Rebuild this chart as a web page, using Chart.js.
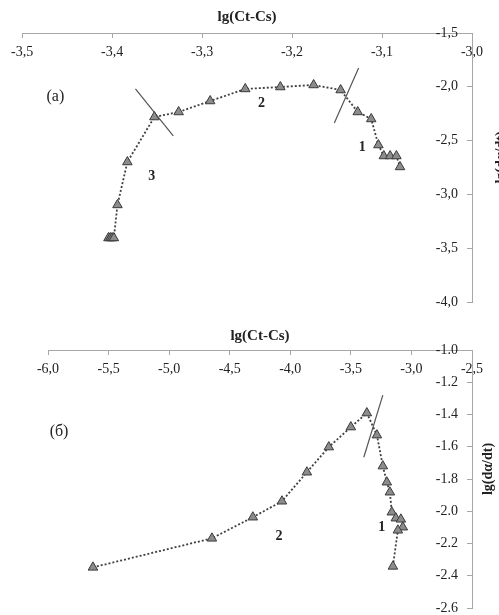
<!DOCTYPE html>
<html>
<head>
<meta charset="utf-8">
<script src="https://cdn.jsdelivr.net/npm/chart.js@4"></script>
<style>
  html, body { margin: 0; padding: 0; background: #fff; }
  canvas { position: absolute; left: 0; }
  #chartA { top: 0; }
  #chartB { top: 310px; }
</style>
</head>
<body>
<canvas id="chartA" width="499" height="312"></canvas>
<canvas id="chartB" width="499" height="305"></canvas>
<script>
// (а) lg(dα/dt) vs lg(Ct-Cs)
const aX = [-3.404, -3.402, -3.400, -3.398, -3.394, -3.383, -3.353, -3.326, -3.291, -3.252,
            -3.213, -3.176, -3.146, -3.127, -3.112, -3.104, -3.098, -3.091, -3.084, -3.080];
const aY = [-3.405, -3.405, -3.405, -3.405, -3.098, -2.699, -2.281, -2.234, -2.132, -2.020,
            -2.002, -1.983, -2.030, -2.234, -2.299, -2.541, -2.643, -2.643, -2.643, -2.745];
// short solid strokes that split the regions
const aCut1X = [-3.374, -3.332];
const aCut1Y = [-2.020, -2.457];
const aCut2X = [-3.126, -3.153];
const aCut2Y = [-1.825, -2.336];
const aNotes = ['(а)', '2', '1', '3'];
const aNoteX = [-3.463, -3.234, -3.122, -3.356];
const aNoteY = [-2.095, -2.151, -2.559, -2.829];
const aXTicks = [-3.5, -3.4, -3.3, -3.2, -3.1, -3.0];
const aYTicks = [-1.5, -2.0, -2.5, -3.0, -3.5, -4.0];

// (б)
const bX = [-5.629, -4.647, -4.309, -4.069, -3.863, -3.682, -3.500, -3.368, -3.285,
            -3.236, -3.203, -3.178, -3.162, -3.129, -3.087, -3.071, -3.112, -3.153];
const bY = [-2.348, -2.168, -2.037, -1.938, -1.758, -1.602, -1.478, -1.391, -1.528,
            -1.720, -1.820, -1.882, -2.006, -2.043, -2.050, -2.099, -2.118, -2.342];
const bCutX = [-3.236, -3.393];
const bCutY = [-1.280, -1.665];
const bNotes = ['(б)', '2', '1'];
const bNoteX = [-5.909, -4.094, -3.244];
const bNoteY = [-1.509, -2.155, -2.099];
const bXTicks = [-6.0, -5.5, -5.0, -4.5, -4.0, -3.5, -3.0, -2.5];
const bYTicks = [-1.0, -1.2, -1.4, -1.6, -1.8, -2.0, -2.2, -2.4, -2.6];

const SERIF = '"Liberation Serif", "Times New Roman", serif';
const AXIS = '#a6a6a6';
const INK = '#222';

const pts = (xs, ys) => xs.map((x, i) => ({ x, y: ys[i] }));
const comma = (v) => v.toFixed(1).replace('.', ',');
const dot = (v) => v.toFixed(1);

// labels on the plot and the rotated y title
const notesPlugin = {
  id: 'notes',
  afterDatasetsDraw(chart, args, o) {
    const { ctx } = chart;
    const x = chart.scales.x, y = chart.scales.y;
    ctx.save();
    ctx.fillStyle = INK;
    ctx.textAlign = 'center';
    ctx.textBaseline = 'middle';
    o.texts.forEach((t, i) => {
      ctx.font = t.startsWith('(') ? '16px ' + SERIF : 'bold 14px ' + SERIF;
      ctx.fillText(t, x.getPixelForValue(o.xs[i]), y.getPixelForValue(o.ys[i]));
    });
    ctx.translate(y.right + o.titleDx, (y.top + y.bottom) / 2 - 10);
    ctx.rotate(-Math.PI / 2);
    ctx.font = 'bold 14px ' + SERIF;
    ctx.fillText('lg(dα/dt)', 0, 0);
    ctx.restore();
  }
};

function draw(id, p) {
  const cut = (xs, ys) => ({
    data: pts(xs, ys),
    showLine: true,
    borderColor: '#555',
    borderWidth: 1.2,
    pointRadius: 0,
  });
  new Chart(document.getElementById(id), {
    type: 'scatter',
    data: {
      datasets: [
        {
          data: pts(p.xs, p.ys),
          showLine: true,
          borderColor: '#404040',
          borderWidth: 1.8,
          borderDash: [2, 2],
          pointStyle: 'triangle',
          pointRadius: 5.5,
          pointBackgroundColor: '#8c8c8c',
          pointBorderColor: '#3a3a3a',
          pointBorderWidth: 1,
        },
        ...p.cuts.map((c) => cut(c[0], c[1])),
      ],
    },
    options: {
      responsive: false,
      animation: false,
      layout: { padding: { left: p.left, right: 0, top: 0, bottom: p.bottom } },
      plugins: {
        legend: { display: false },
        tooltip: { enabled: false },
        notes: { texts: p.notes, xs: p.noteX, ys: p.noteY, titleDx: p.titleDx },
      },
      scales: {
        x: {
          type: 'linear',
          position: 'top',
          min: p.xTicks[0],
          max: p.xTicks[p.xTicks.length - 1],
          afterBuildTicks: (s) => { s.ticks = p.xTicks.map((v) => ({ value: v })); },
          afterFit: (s) => { s.height = p.topH; },
          grid: { drawOnChartArea: false, tickLength: -5, color: AXIS },
          border: { color: AXIS },
          ticks: {
            mirror: true, padding: 11, color: INK, maxRotation: 0, autoSkip: false,
            font: { family: SERIF, size: 14 },
            callback: (v) => comma(v),
          },
          title: {
            display: true, text: 'lg(Ct-Cs)', color: INK,
            font: { family: SERIF, size: 15, weight: 'bold' },
            padding: { top: p.titlePad, bottom: 0 },
          },
        },
        y: {
          type: 'linear',
          position: 'right',
          min: p.yTicks[p.yTicks.length - 1],
          max: p.yTicks[0],
          afterBuildTicks: (s) => { s.ticks = p.yTicks.map((v) => ({ value: v })); },
          afterFit: (s) => { s.width = 27; },
          grid: { drawOnChartArea: false, tickLength: -5, color: AXIS },
          border: { color: AXIS },
          ticks: {
            mirror: true, padding: -14, color: INK, autoSkip: false,
            font: { family: SERIF, size: 14 },
            callback: (v) => p.yFmt(v),
          },
        },
      },
    },
    plugins: [notesPlugin],
  });
}

draw('chartA', {
  xs: aX, ys: aY,
  cuts: [[aCut1X, aCut1Y], [aCut2X, aCut2Y]],
  notes: aNotes, noteX: aNoteX, noteY: aNoteY,
  xTicks: aXTicks, yTicks: aYTicks,
  left: 20, bottom: 10, topH: 33, titlePad: 8, titleDx: 2,
  yFmt: comma,
});

draw('chartB', {
  xs: bX, ys: bY,
  cuts: [[bCutX, bCutY]],
  notes: bNotes, noteX: bNoteX, noteY: bNoteY,
  xTicks: bXTicks, yTicks: bYTicks,
  left: 48, bottom: 7, topH: 40, titlePad: 17, titleDx: -11,
  yFmt: dot,
});
</script>
</body>
</html>
